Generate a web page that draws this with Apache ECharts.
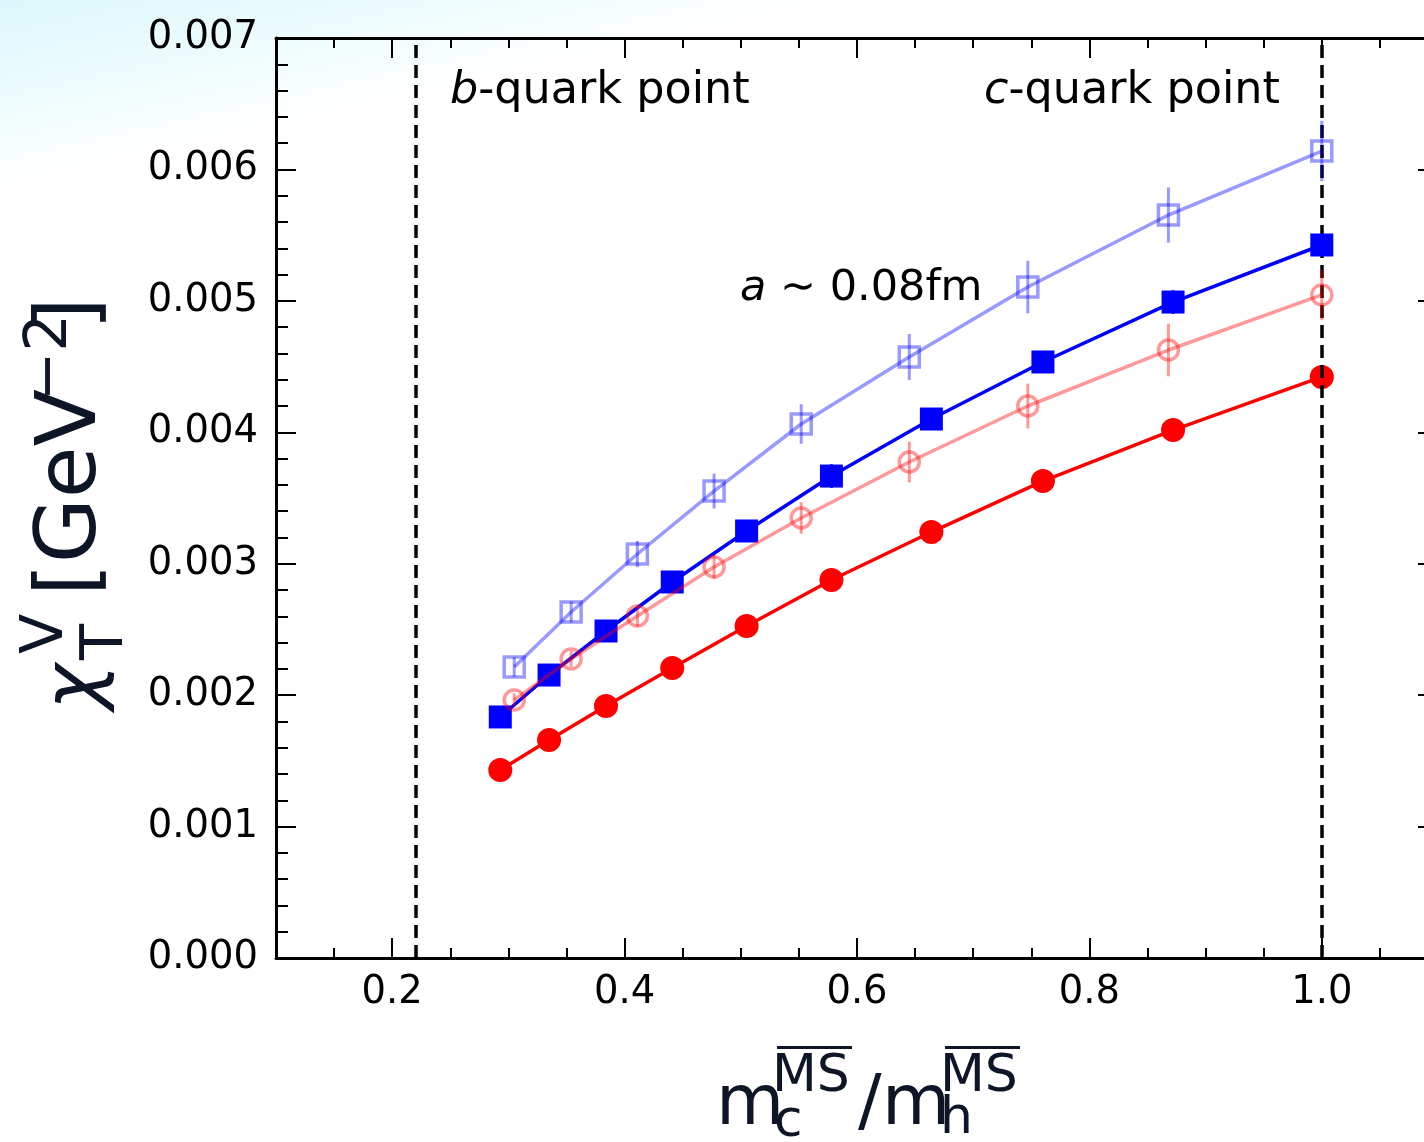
<!DOCTYPE html>
<html><head><meta charset="utf-8">
<script src="https://cdn.jsdelivr.net/npm/echarts@6/dist/echarts.min.js"></script>
<style>html,body{margin:0;padding:0;background:#fff}#c{width:1424px;height:1142px}</style>
</head><body><div id="c"></div>
<script>
// ---- data ----
const xFilled = [0.293, 0.335, 0.384, 0.441, 0.505, 0.578, 0.664, 0.760, 0.872, 1.0];
const redFilled = [0.001430, 0.001659, 0.001917, 0.002207, 0.002526, 0.002876, 0.003241, 0.003629, 0.004017, 0.004421];
const redFilledErr = [0.00002, 0.00002, 0.00003, 0.00003, 0.00003, 0.00004, 0.00004, 0.00005, 0.00005, 0.00006];
const blueFilled = [0.001834, 0.002153, 0.002488, 0.002861, 0.003249, 0.003667, 0.004101, 0.004535, 0.004991, 0.005425];
const blueFilledErr = [0.00003, 0.00003, 0.00004, 0.00004, 0.00005, 0.00009, 0.00007, 0.00008, 0.00009, 0.00008];
const xOpen = [0.305, 0.354, 0.411, 0.477, 0.552, 0.645, 0.747, 0.868, 1.0];
const redOpen = [0.001963, 0.002275, 0.002602, 0.002975, 0.003348, 0.003774, 0.004200, 0.004626, 0.005045];
const redOpenErr = [0.00005, 0.00006, 0.00008, 0.00009, 0.00012, 0.000155, 0.00017, 0.00020, 0.00019];
const blueOpen = [0.002214, 0.002633, 0.003074, 0.003553, 0.004063, 0.004573, 0.005105, 0.005653, 0.006140];
const blueOpenErr = [0.000075, 0.00008, 0.00010, 0.000133, 0.00015, 0.000175, 0.00020, 0.00021, 0.00023];
const quarkLines = [0.2224, 1.0];
const xMajorTicks = [0.2, 0.4, 0.6, 0.8, 1.0];

const FONT = 'DejaVu Sans';
const LBL = '#0d1526';
const chart = echarts.init(document.getElementById('c'), null, {renderer: 'canvas'});

function pts(xs, ys) { return xs.map((x, i) => [x, ys[i]]); }
function errSeries(xs, ys, es, color, z) {
  return {
    type: 'custom', z: z, silent: true, clip: false,
    data: xs.map((x, i) => [x, ys[i], es[i]]),
    encode: {x: 0, y: 1},
    renderItem: function (params, api) {
      const x = api.value(0), y = api.value(1), e = api.value(2);
      const p1 = api.coord([x, y - e]), p2 = api.coord([x, y + e]);
      return {type: 'line', shape: {x1: p1[0], y1: p1[1], x2: p2[0], y2: p2[1]},
        style: {stroke: color, lineWidth: 3}};
    }
  };
}
function lineSeries(xs, ys, color, symbol, size, filled, z) {
  return {
    type: 'line', z: z, data: pts(xs, ys), symbol: symbol, symbolSize: size,
    showAllSymbol: true, silent: true,
    lineStyle: {color: color, width: 3.5},
    itemStyle: filled ? {color: color, borderWidth: 0}
                      : {color: 'rgba(0,0,0,0)', borderColor: color, borderWidth: 3.5},
    emphasis: {disabled: true}
  };
}
function txt(x, base, text, size, italic, fill) {
  return {type: 'text', x: x, y: base - 0.346 * size, silent: true,
    style: {text: text, fontSize: size, fontFamily: FONT, fontStyle: italic ? 'italic' : 'normal',
      fill: fill || LBL, textAlign: 'left', verticalAlign: 'middle'}};
}
function richTxt(x, base, text, size) {
  return {type: 'text', x: x, y: base - 0.346 * size, silent: true,
    style: {text: text, fontSize: size, fontFamily: FONT, fill: '#000', textAlign: 'left', verticalAlign: 'middle',
      rich: {i: {fontStyle: 'italic', fontSize: size, fontFamily: FONT, fill: '#000'}}}};
}

const axisLineStyle = {color: '#000', width: 3};
const tickStyle = {color: '#000', width: 2};
function xAx(pos, major, labels) {
  const a = {type: 'value', position: pos, min: 0.1, max: 1.1,
    axisLine: {show: major, onZero: false, lineStyle: axisLineStyle},
    splitLine: {show: false}, minorTick: {show: false},
    axisTick: {show: true, inside: true, length: major ? 20 : 10, lineStyle: tickStyle},
    axisLabel: {show: false}};
  if (major) {
    a.axisTick.customValues = xMajorTicks;
    a.axisLabel = {show: labels, customValues: xMajorTicks, formatter: v => v.toFixed(1),
      margin: 15, color: '#000', fontSize: 38.5, fontFamily: FONT};
  } else {
    a.interval = 0.05;
  }
  return a;
}
function yAx(pos, labels) {
  return {type: 'value', position: pos, min: 0, max: 0.007, interval: 0.001,
    axisLine: {show: true, onZero: false, lineStyle: axisLineStyle},
    splitLine: {show: false},
    axisTick: {show: true, inside: true, length: 20, lineStyle: tickStyle},
    minorTick: {show: true, splitNumber: 5, length: 12, lineStyle: tickStyle},
    axisLabel: {show: labels, formatter: v => v.toFixed(3), margin: 18, color: '#000', fontSize: 38.5, fontFamily: FONT}};
}

const redC = '#ff0000', blueC = '#0000ff';
const redL = 'rgba(255,0,0,0.4)', blueL = 'rgba(0,0,255,0.4)';

const option = {
  animation: false,
  backgroundColor: '#fff',
  grid: {left: 276, top: 38, right: -14, bottom: 184, outerBoundsMode: 'none', containLabel: false},
  xAxis: [xAx('bottom', true, true), xAx('bottom', false, false), xAx('top', true, false), xAx('top', false, false)],
  yAxis: [yAx('left', true), yAx('right', false)],
  series: [
    {type: 'line', data: [], z: 1, silent: true,
      markLine: {silent: true, symbol: ['none', 'none'], label: {show: false},
        lineStyle: {type: [13, 7], color: '#000', width: 3.5},
        emphasis: {disabled: true},
        data: quarkLines.map(v => ({xAxis: v}))}},
    errSeries(xFilled, redFilled, redFilledErr, redC, 2),
    lineSeries(xFilled, redFilled, redC, 'circle', 24, true, 3),
    errSeries(xFilled, blueFilled, blueFilledErr, blueC, 4),
    lineSeries(xFilled, blueFilled, blueC, 'rect', 23, true, 5),
    errSeries(xOpen, redOpen, redOpenErr, redL, 6),
    lineSeries(xOpen, redOpen, redL, 'circle', 20, false, 7),
    errSeries(xOpen, blueOpen, blueOpenErr, blueL, 8),
    lineSeries(xOpen, blueOpen, blueL, 'rect', 20, false, 9)
  ],
  graphic: [
    {type: 'rect', z: -100, silent: true, shape: {x: 0, y: 0, width: 1424, height: 1142},
      style: {fill: {type: 'linear', x: 0, y: 0, x2: 40, y2: 180, global: true,
        colorStops: [{offset: 0, color: '#dcf8fc'}, {offset: 0.55, color: '#eefcfd'}, {offset: 1, color: '#ffffff'}]}}},
    richTxt(450, 107, '{i|b}-quark point', 44.5),
    richTxt(984, 107, '{i|c}-quark point', 44.5),
    richTxt(740, 304, '{i|a} ∼ 0.08fm', 43),
    // y-axis title (rotated)
    {type: 'group', x: 102, y: 712, rotation: Math.PI / 2, children: [
      txt(2, 3, 'χ', 78, true),
      txt(52, 25, 'T', 59),
      txt(58, -35, 'V', 59),
      txt(116, 0, '[GeV', 84),
      txt(311, -31, '−2', 59),
      txt(382, 0, ']', 84)
    ]},
    // x-axis title
    txt(716, 1130, 'm', 70),
    txt(774, 1140, 'c', 52),
    txt(772, 1095, 'MS', 52),
    {type: 'rect', silent: true, shape: {x: 777, y: 1046, width: 75, height: 3}, style: {fill: LBL}},
    txt(858, 1130, '/', 70),
    txt(882, 1130, 'm', 70),
    txt(940, 1137, 'h', 52),
    txt(940, 1095, 'MS', 52),
    {type: 'rect', silent: true, shape: {x: 945, y: 1046, width: 75, height: 3}, style: {fill: LBL}}
  ]
};
chart.setOption(option);
</script>
</body></html>
